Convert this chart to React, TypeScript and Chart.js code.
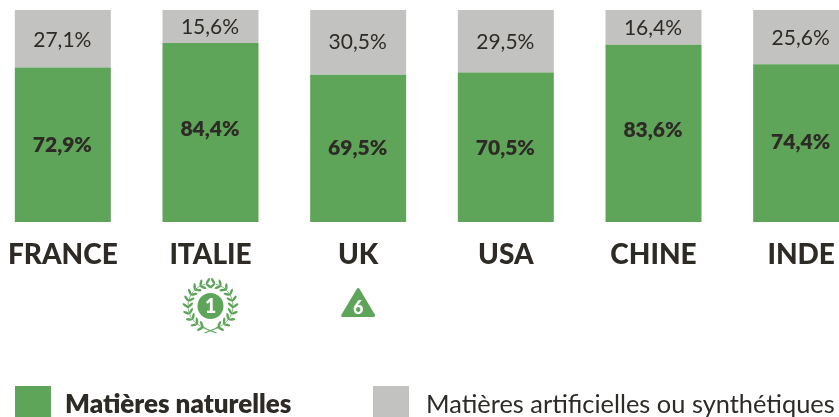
import React, { useEffect, useRef } from "react";
import { Chart, registerables } from "chart.js";

Chart.register(...registerables);

const categories = ["FRANCE", "ITALIE", "UK", "USA", "CHINE", "INDE"];
const naturalValues = [72.9, 84.4, 69.5, 70.5, 83.6, 74.4];
const syntheticValues = [27.1, 15.6, 30.5, 29.5, 16.4, 25.6];
const seriesNames = ["Matières naturelles", "Matières artificielles ou synthétiques"];
const badges = [
  { category: "ITALIE", rank: "1", shape: "laurel" },
  { category: "UK", rank: "6", shape: "triangle" },
];

const GREEN = "#5ea459";
const GREY = "#c2c2c0";
const INK = "#2e2a26";
const FONT = "Lato, sans-serif";
const OFFSET_X = 11;
const LABEL_NUDGE_Y = [
  [1, -3, 0, 1, -3, -1],
  [2, 1, 0, 1, 1, 1],
];

const fmt = (v: number) => v.toFixed(1).replace(".", ",") + "%";

function drawLaurel(ctx: CanvasRenderingContext2D, cx: number, cy: number) {
  ctx.save();
  ctx.translate(cx, cy);
  ctx.fillStyle = GREEN;
  ctx.strokeStyle = GREEN;
  ctx.beginPath();
  ctx.arc(0, 0, 13, 0, Math.PI * 2);
  ctx.fill();
  for (const side of [-1, 1]) {
    ctx.lineWidth = 0.8;
    ctx.beginPath();
    ctx.arc(0, 0, 22.5, side > 0 ? -1.35 : Math.PI + 1.35, side > 0 ? 1.35 : Math.PI - 1.35, side < 0);
    ctx.stroke();
    for (let i = 0; i < 10; i++) {
      const a = -1.38 + i * 0.29;
      for (const off of [-1, 1]) {
        ctx.save();
        ctx.rotate(side > 0 ? a : Math.PI - a);
        ctx.translate(22.5, 0);
        ctx.rotate(((side > 0 ? -1 : 1) * Math.PI) / 2 + (side > 0 ? 1 : -1) * off * 0.85);
        ctx.beginPath();
        ctx.ellipse(3.3, 0, 3.4, 1.25, 0, 0, Math.PI * 2);
        ctx.fill();
        ctx.restore();
      }
    }
  }
  ctx.lineWidth = 1.1;
  ctx.beginPath();
  ctx.moveTo(-9, 21);
  ctx.lineTo(6, 27);
  ctx.moveTo(9, 21);
  ctx.lineTo(-6, 27);
  ctx.stroke();
  ctx.restore();
}

function drawTriangle(ctx: CanvasRenderingContext2D, cx: number, cy: number) {
  ctx.save();
  ctx.fillStyle = GREEN;
  ctx.strokeStyle = GREEN;
  ctx.lineWidth = 3;
  ctx.lineJoin = "round";
  ctx.beginPath();
  ctx.moveTo(cx, cy - 16.5);
  ctx.lineTo(cx + 15.5, cy + 9.5);
  ctx.lineTo(cx - 15.5, cy + 9.5);
  ctx.closePath();
  ctx.fill();
  ctx.stroke();
  ctx.restore();
}

const decorPlugin = {
  id: "decor",
  afterDatasetsDraw(chart: any) {
    const { ctx } = chart;
    ctx.save();
    ctx.textAlign = "center";
    ctx.textBaseline = "middle";
    ctx.fillStyle = INK;
    chart.data.datasets.forEach((ds: any, di: number) => {
      chart.getDatasetMeta(di).data.forEach((el: any, i: number) => {
        const p = el.getCenterPoint();
        ctx.font = `${di === 0 ? 800 : 400} 21px ${FONT}`;
        ctx.fillText(fmt(ds.data[i]), p.x - 0.5, p.y + LABEL_NUDGE_Y[di][i]);
      });
    });

    const xs = chart.scales.x;
    badges.forEach((b) => {
      const x = xs.getPixelForValue(categories.indexOf(b.category));
      if (b.shape === "laurel") {
        drawLaurel(ctx, x, 306);
        ctx.fillStyle = "#ffffff";
        ctx.font = `900 20px ${FONT}`;
        ctx.fillText(b.rank, x, 307);
      } else {
        drawTriangle(ctx, x, 306);
        ctx.fillStyle = "#ffffff";
        ctx.font = `900 18px ${FONT}`;
        ctx.fillText(b.rank, x, 308);
      }
    });

    const legendX = [15 + OFFSET_X, 373 + OFFSET_X];
    const textX = [65 + OFFSET_X, 426 + OFFSET_X];
    const legendSize = [26, 25.4];
    chart.data.datasets.forEach((ds: any, di: number) => {
      ctx.fillStyle = ds.backgroundColor;
      ctx.fillRect(legendX[di], 386, 36, 31);
      ctx.fillStyle = INK;
      ctx.textAlign = "left";
      ctx.font = `${di === 0 ? 800 : 400} ${legendSize[di]}px ${FONT}`;
      ctx.fillText(ds.label, textX[di], 405);
    });
    ctx.restore();
  },
};

export default function App() {
  const ref = useRef<HTMLCanvasElement>(null);
  useEffect(() => {
    const chart = new Chart(ref.current as HTMLCanvasElement, {
      type: "bar",
      data: {
        labels: categories,
        datasets: [
          { label: seriesNames[0], data: naturalValues, backgroundColor: GREEN },
          { label: seriesNames[1], data: syntheticValues, backgroundColor: GREY },
        ],
      },
      options: {
        animation: false,
        responsive: false,
        events: [],
        layout: { padding: { top: 10, left: 0, right: 0, bottom: 0 } },
        datasets: { bar: { barPercentage: 0.65, categoryPercentage: 1 } },
        plugins: { legend: { display: false }, tooltip: { enabled: false } },
        scales: {
          x: {
            stacked: true,
            grid: { display: false },
            border: { display: false },
            afterFit: (s: any) => { s.height = 195; },
            ticks: {
              color: INK,
              padding: 8,
              maxRotation: 0,
              autoSkip: false,
              font: { family: "Lato", size: 28, weight: 900 },
            },
          },
          y: { stacked: true, display: false, min: 0, max: 100 },
        },
      },
      plugins: [decorPlugin],
    } as any);
    return () => chart.destroy();
  }, []);
  return (
    <div style={{ position: "fixed", left: 0, top: 0, width: 839, height: 417, overflow: "hidden", background: "#fff" }}>
      <canvas ref={ref} width={886} height={417} style={{ position: "absolute", left: -OFFSET_X, top: 0, display: "block" }} />
    </div>
  );
}
